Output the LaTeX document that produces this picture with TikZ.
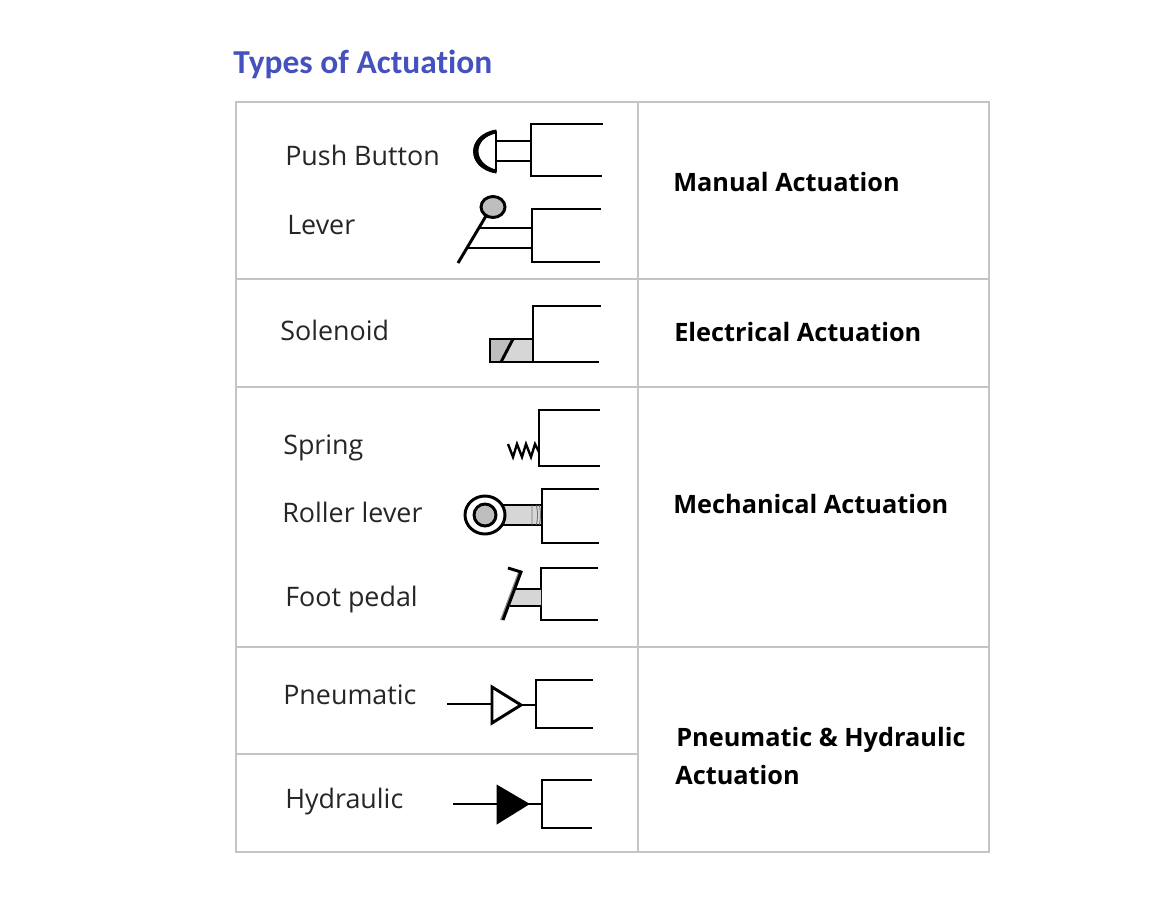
\documentclass[tikz,border=0pt]{standalone}
\usepackage{fontspec}
\setmainfont{Open Sans}
\newfontfamily\titlefont[Ligatures=CommonOff]{Carlito}
\usepackage{tikz}
\definecolor{gridgray}{HTML}{C4C4C4}
\definecolor{titleblue}{HTML}{4451BE}
\definecolor{symgray}{HTML}{BEBEBE}
\definecolor{stemgray}{HTML}{D6D6D6}
\tikzset{
  sym/.style={line width=2.1pt, line join=miter},
  grid line/.style={draw=gridgray, line width=1.7pt},
  lbl/.style={anchor=base west, inner sep=0pt, font=\fontsize{19.1}{21}\selectfont, text=black!85},
  head/.style={anchor=base west, inner sep=0pt, font=\fontsize{18}{22}\selectfont\bfseries}
}

\begin{document}
\begin{tikzpicture}[x=0.025cm, y=-0.025cm]
    \useasboundingbox (0,0) rectangle (1170,908);
    \fill[white] (0,0) rectangle (1170,908);

    % Title
    \node[anchor=base west, inner sep=0pt, text=titleblue, font=\fontsize{23.8}{26}\selectfont\titlefont\bfseries] (title) at (233,73) {Types of Actuation};

    % Table lines
    \draw[grid line] (236,102) rectangle (989,852);
    \draw[grid line] (638,102) -- (638,852);
    \foreach \y in {279,387,647} {
      \draw[grid line] (236,\y) -- (989,\y);
    }
    \draw[grid line] (236,754) -- (638,754);

    % Symbol labels
    \foreach \n/\x/\y/\t in {push/285/165/Push Button, lever/287/234/Lever, solenoid/280/340/Solenoid, spring/283/454/Spring, roller/282/522/Roller lever, foot/285/606/Foot pedal, pneu/283/704/Pneumatic, hydr/285/808/Hydraulic} {
      \node[lbl] (\n) at (\x,\y) {\t};
    }

    % Actuation groups
    \foreach \n/\x/\y/\t in {manual/673/191/Manual Actuation, electrical/674/341/Electrical Actuation, mechanical/673/513/Mechanical Actuation, fluid/676/746/Pneumatic \& Hydraulic, fluidb/675/784/Actuation} {
      \node[head] (\n) at (\x,\y) {\t};
    }

    % Fills go under the port brackets
    \fill[stemgray] (490,339) rectangle (533,362);
    \fill[symgray] (490,339) -- (513,339) -- (501,362) -- (490,362) -- cycle;
    \draw[sym] (490,339) rectangle (533,362);
    \draw[sym] (513,339) -- (501,362);

    % Port brackets
    \foreach \x/\t/\b/\r/\s in {531/124/176/603/602, 532/209/262/601/600, 533/306/362/601/599, 539/410/466/600/600, 542/489/543/599/599, 541/568/620/598/598, 536/680/728/593/593, 542/780/828/592/592} {
      \draw[sym] (\r,\t) -- (\x,\t) -- (\x,\b) -- (\s,\b);
    }

    % Push button
    \draw[sym] (496,141) -- (531,141) (496,161) -- (531,161);
    \draw[line width=1.3pt] (496,131) -- (496,172);
    \filldraw[line width=0.6pt] (496,130) .. controls (466,135) and (466,168) .. (496,173) -- (496,170) .. controls (472,164) and (472,138) .. (496,133) -- cycle;

    % Lever
    \draw[sym] (486,216) -- (458,263);
    \draw[sym] (478,228) -- (532,228) (468,248) -- (532,248);
    \filldraw[sym, fill=symgray] (493,207) ellipse (12 and 10.5);

    % Spring
    \draw[line width=1.7pt] (508,444) -- (513,457) -- (517,444) -- (522,457) -- (526,444) -- (531,457) -- (535,444) -- (539,452);

    % Roller lever
    \filldraw[sym, fill=stemgray] (500,505) rectangle (542,525);
    \draw[line width=0.6pt, black!55] (532,505) -- (532,525) (536,505) .. controls (538,510) and (538,520) .. (536,525) (539,505) .. controls (541,510) and (541,520) .. (539,525);
    \filldraw[sym, fill=white] (485,515) ellipse (20 and 19);
    \filldraw[sym, fill=symgray] (485,515) circle (11);

    % Foot pedal
    \fill[stemgray] (516,589) -- (541,589) -- (541,606) -- (510,606) -- cycle;
    \draw[sym] (516,589) -- (541,589) (510,606) -- (541,606);
    \fill[black!45] (518,572) -- (521,572) -- (503,620) -- (500,620) -- cycle;
    \draw[sym] (508,568) -- (521,572) -- (503,620);

    % Pneumatic
    \draw[sym] (447,704) -- (492,704) (521,705) -- (536,705);
    \draw[sym] (492,687) -- (521,705) -- (492,723) -- cycle;

    % Hydraulic
    \draw[sym] (453,804) -- (497,804) (528,804) -- (542,804);
    \filldraw[sym] (498,787) -- (527,804) -- (498,822) -- cycle;
  \end{tikzpicture}
\end{document}
